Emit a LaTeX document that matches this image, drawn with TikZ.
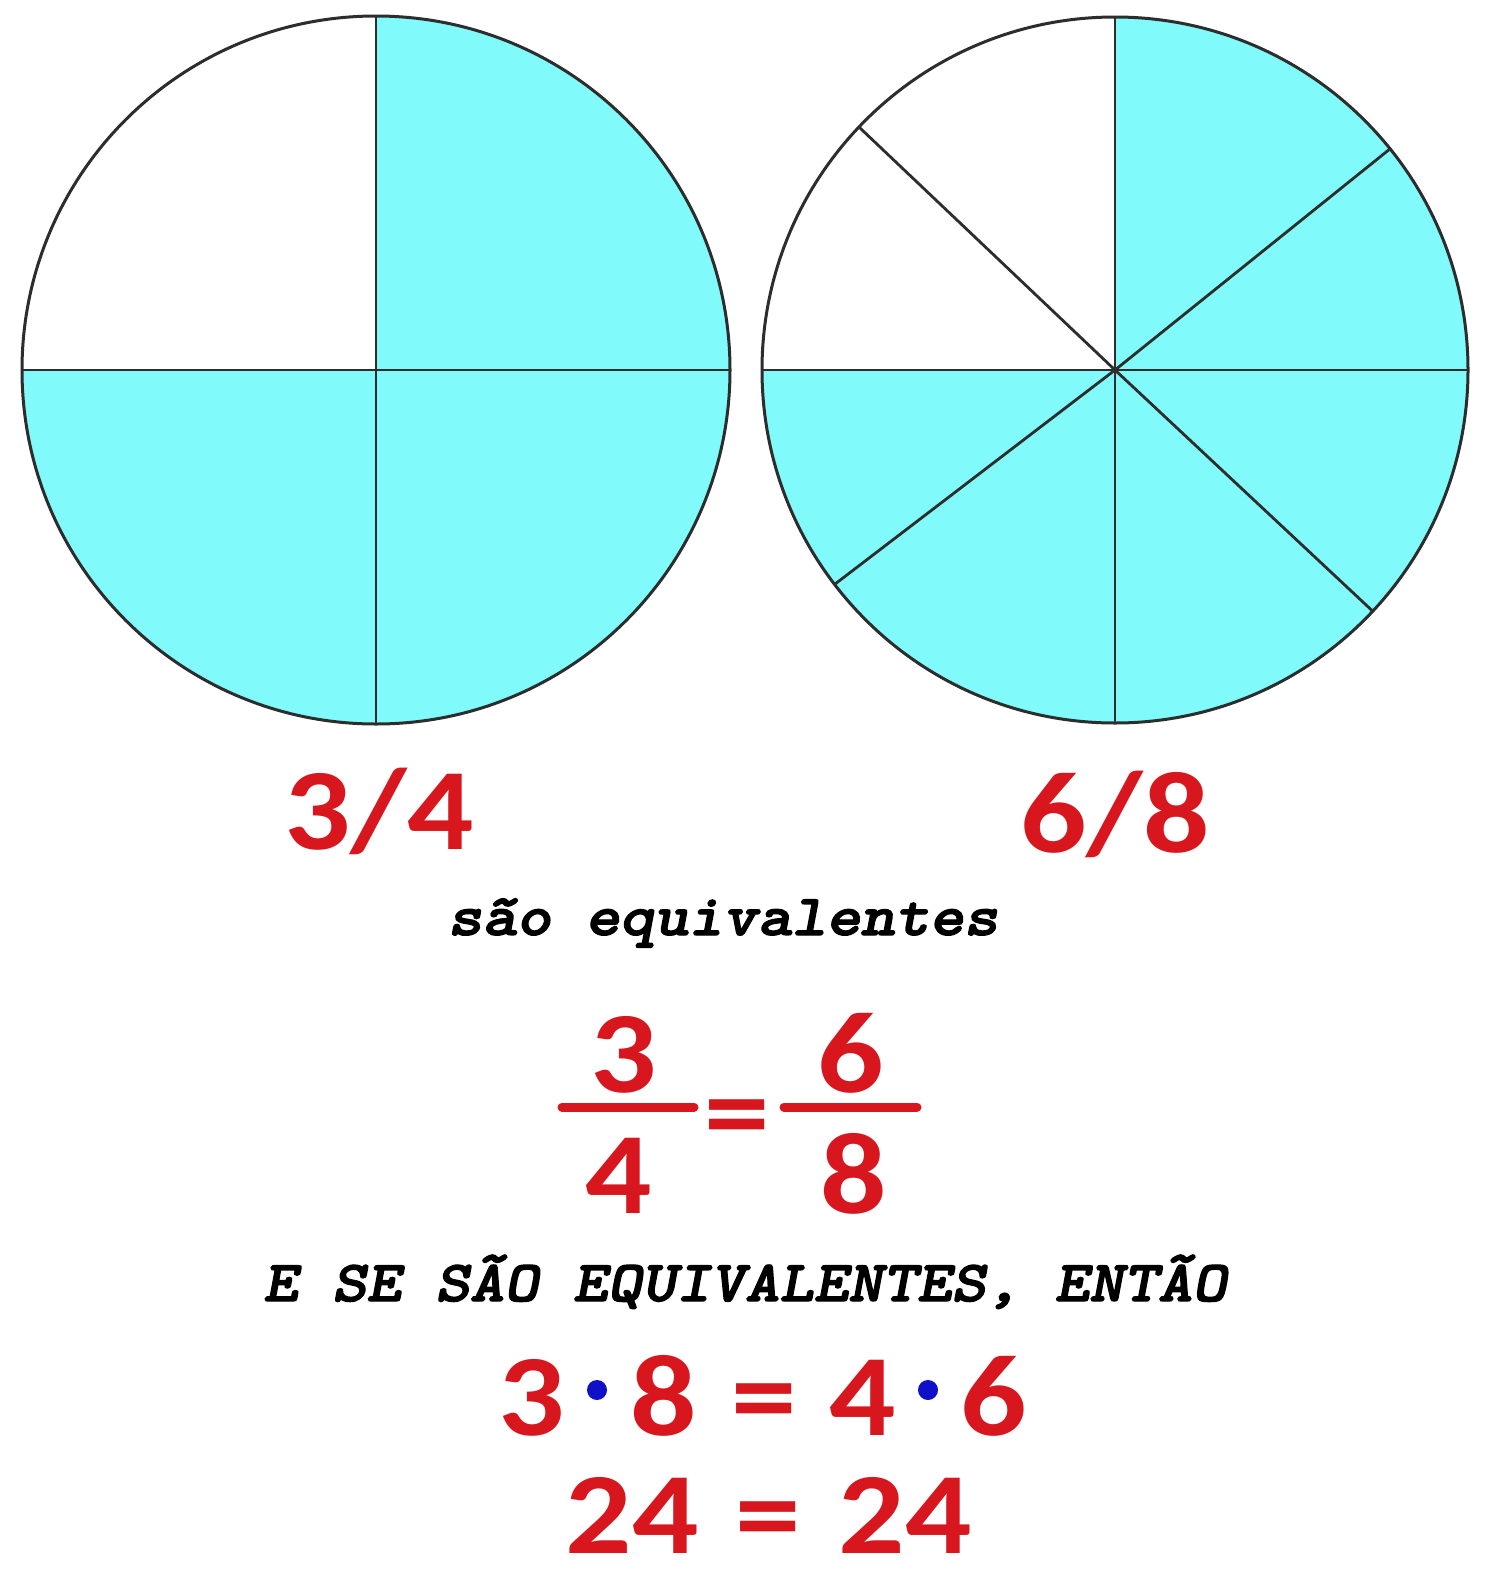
\documentclass[tikz,border=0pt]{standalone}
\usepackage{fontspec}
\newfontfamily\numfont{Carlito}[FakeStretch=1.13]
\newfontfamily\courfont{lmmonolt10-boldoblique}[Extension=.otf, FakeStretch=1.13, FakeBold=2.2]
\definecolor{cyanfill}{RGB}{128,250,250}
\definecolor{numred}{RGB}{215,22,30}
\definecolor{dotblue}{RGB}{16,16,200}
\definecolor{edge}{RGB}{45,45,45}
\tikzset{
  big/.style={text=numred, inner sep=0pt, anchor=base, font=\numfont\bfseries\fontsize{58}{62}\selectfont},
  mono/.style={text=black, inner sep=0pt, anchor=base, font=\courfont\fontsize{29}{32}\selectfont},
  spoke/.style={draw=edge, line width=1.4pt},
  rim/.style={draw=edge, line width=1.5pt},
  fbar/.style={draw=numred, line width=4.5pt, line cap=round},
  bdot/.style={circle, fill=dotblue, inner sep=0pt, minimum size=10pt}
}
\begin{document}
\begin{tikzpicture}[x=0.5pt,y=-0.5pt]
\useasboundingbox[fill=white] (0,0) rectangle (1500,1585);
% left circle
\coordinate (L) at (376,370);
\fill[cyanfill] (L) circle (354);
\fill[white] (L) -- ++(-90:354) arc (-90:-180:354) -- cycle;
\draw[spoke] ([shift={(-354,0)}]L) -- ([shift={(354,0)}]L);
\draw[spoke] ([shift={(0,-354)}]L) -- ([shift={(0,354)}]L);
\draw[rim] (L) circle (354);
% right circle
\coordinate (R) at (1115,370);
\fill[cyanfill] (R) circle (353);
\fill[white] (R) -- ++(-90:353) arc (-90:-180:353) -- cycle;
\foreach \a in {0,-38.8,-90,-136.5,-180,-217.4,-270,-316.9}
  \draw[spoke] (R) -- ++(\a:353);
\draw[rim] (R) circle (353);
% labels
\node[big] (q1) at (379,849) {3/4};
\node[big] (q2) at (1115,852) {6/8};
\node[mono] (t1) at (723,935) {são equivalentes};
% fraction equation
\node[big] (n1) at (624,1092) {3};
\node[big] (d1) at (619,1213) {4};
\coordinate (b1s) at (562,1107);
\coordinate (b1e) at (694,1107);
\draw[fbar] (b1s) -- (b1e);
\node[big] (eq1) at (737,1151) {=};
\node[big] (n2) at (851,1092) {6};
\node[big] (d2) at (854,1213) {8};
\coordinate (b2s) at (784,1107);
\coordinate (b2e) at (917,1107);
\draw[fbar] (b2s) -- (b2e);
% sentence
\node[mono] (t2) at (745,1301) {E SE SÃO EQUIVALENTES, ENTÃO};
% products
\node[big] (p1) at (532,1435) {3};
\node[bdot] (p2) at (597,1390) {};
\node[big] (p3) at (664,1435) {8};
\node[big] (p4) at (764,1435) {=};
\node[big] (p5) at (863,1435) {4};
\node[bdot] (p6) at (928,1390) {};
\node[big] (p7) at (994,1435) {6};
% results
\node[big] (r1) at (632,1553) {24};
\node[big] (r2) at (768,1553) {=};
\node[big] (r3) at (905,1553) {24};
\end{tikzpicture}
\end{document}
